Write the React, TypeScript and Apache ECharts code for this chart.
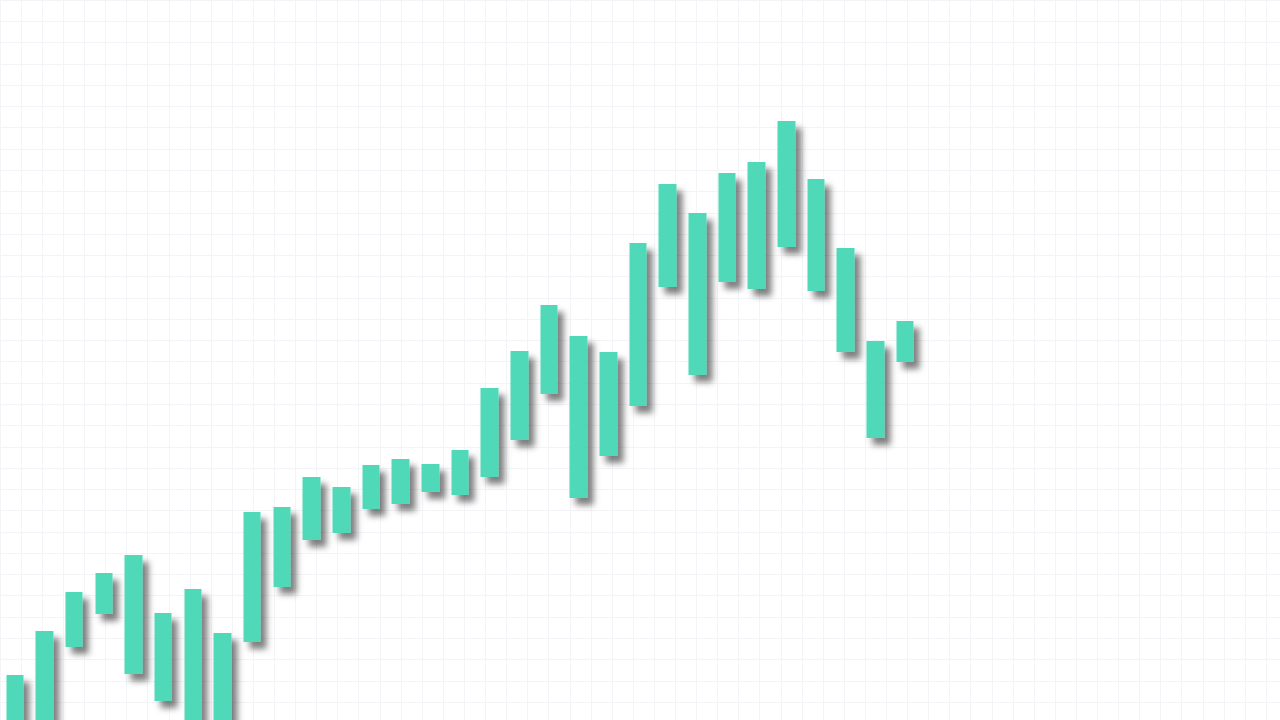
import React, { useEffect, useRef } from "react";
import * as echarts from "echarts";

// 43 slots on the time axis; only the first 31 carry a range
const categories: string[] = Array.from({ length: 43 }, (_, i) => `P${i + 1}`);

// lower and upper end of each floating bar (value units)
const lows: number[] = [
  -15, -15, 18.25, 26.5, 11.5, 4.75, -15, -15, 19.5, 33.25,
  45, 46.75, 52.75, 54, 57, 56.25, 60.75, 70, 81.5, 55.5,
  66, 78.5, 108.25, 86.25, 109.5, 107.75, 118.25, 107.25, 92, 70.5,
  89.5,
];
const highs: number[] = [
  11.25, 22.25, 32, 36.75, 41.25, 26.75, 32.75, 21.75, 52, 53.25,
  60.75, 58.25, 63.75, 65.25, 64, 67.5, 83, 92.25, 103.75, 96,
  92, 119.25, 134, 126.75, 136.75, 139.5, 149.75, 135.25, 118, 94.75,
  99.75,
];

const BAR_COLOR = "#50d9b8";
const GRID_LINE = "#f2f4f8";

export default function App() {
  const ref = useRef<HTMLDivElement>(null);

  useEffect(() => {
    if (!ref.current) return;
    const chart = echarts.init(ref.current, null, { renderer: "svg" });

    const candles = lows.map((lo, i) => [lo, highs[i], lo, highs[i]]);

    chart.setOption({
      animation: false,
      backgroundColor: "#ffffff",
      grid: [
        { left: 0, right: 4, top: 0, bottom: 0 },
        { left: -4, right: -10, top: -1, bottom: -1 },
      ],
      xAxis: [
        {
          type: "category",
          gridIndex: 0,
          data: categories,
          boundaryGap: true,
          show: false,
        },
        {
          type: "value",
          gridIndex: 1,
          min: 0,
          max: 60.656,
          interval: 1,
          axisLine: { show: false },
          axisTick: { show: false },
          axisLabel: { show: false },
          splitLine: { show: true, lineStyle: { color: GRID_LINE, width: 1 } },
        },
      ],
      yAxis: [
        {
          type: "value",
          gridIndex: 0,
          min: 0,
          max: 180,
          show: false,
        },
        {
          type: "value",
          gridIndex: 1,
          inverse: true,
          min: 0,
          max: 33.84,
          interval: 1,
          axisLine: { show: false },
          axisTick: { show: false },
          axisLabel: { show: false },
          splitLine: { show: true, lineStyle: { color: GRID_LINE, width: 1 } },
        },
      ],
      series: [
        {
          type: "candlestick",
          xAxisIndex: 0,
          yAxisIndex: 0,
          barWidth: 18,
          data: candles,
          itemStyle: {
            color: BAR_COLOR,
            color0: BAR_COLOR,
            borderColor: BAR_COLOR,
            borderColor0: BAR_COLOR,
            borderWidth: 0,
            shadowColor: "rgba(0,0,0,0.5)",
            shadowBlur: 6,
            shadowOffsetX: 6,
            shadowOffsetY: 7,
          },
          emphasis: { disabled: true },
        },
      ],
    });

    return () => chart.dispose();
  }, []);

  return (
    <div
      ref={ref}
      style={{ position: "fixed", left: 0, top: 0, width: 1280, height: 720 }}
    />
  );
}
